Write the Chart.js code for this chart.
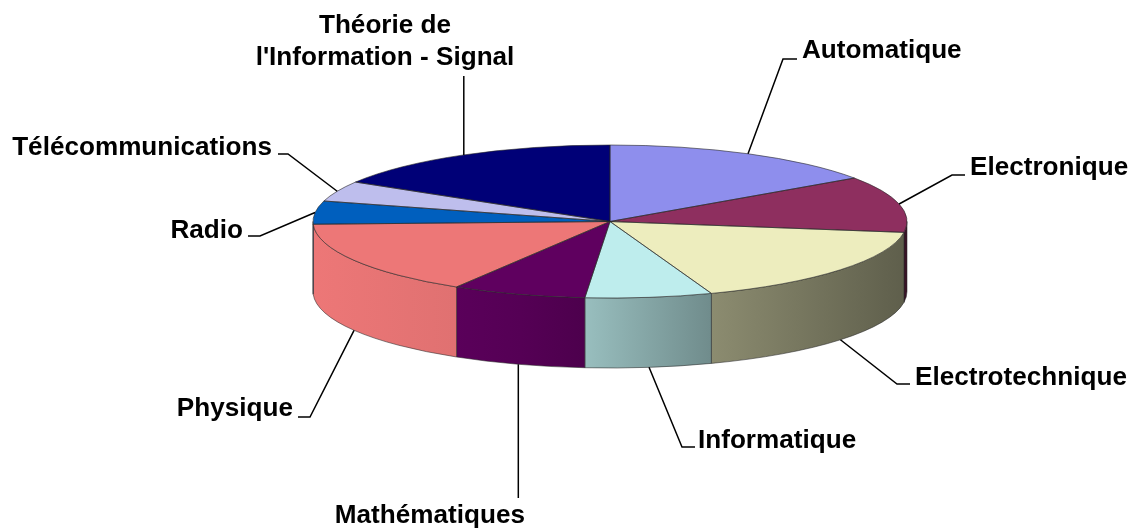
<!DOCTYPE html>
<html><head><meta charset="utf-8">
<script src="https://cdn.jsdelivr.net/npm/chart.js@4.4.1/dist/chart.umd.min.js"></script>
<style>html,body{margin:0;padding:0;background:#fff;}canvas{display:block;}</style>
</head><body>
<canvas id="c" width="1133" height="528"></canvas>
<script>
// ---- data ----
const categories = ["Automatique","Electronique","Electrotechnique","Informatique","Mathématiques","Physique","Radio","Télécommunications","Théorie de l'Information - Signal"];
const values = [15.4, 11.9, 17.2, 6.9, 7.3, 15.8, 4.9, 4.3, 16.4];
const labelLines = [["Automatique"],["Electronique"],["Electrotechnique"],["Informatique"],["Mathématiques"],["Physique"],["Radio"],["Télécommunications"],["Théorie de","l'Information - Signal"]];
const baseColors = ["#9999FF","#993366","#FFFFCC","#CCFFFF","#660066","#FF8080","#0066CC","#CCCCFF","#000080"];

// ---- layout / style ----
const GEO = {cx:610, cy:221.5, rx:297, ry:76.5, depth:70};
const FONT = 'bold 25px "Liberation Sans", Arial, sans-serif';
const TEXT_SX = 1.045;
const labelLayout = [
  {align:'left',  x:802, y:[58],     elbow:[783,59],  end:[797,59]},
  {align:'left',  x:970, y:[175],    elbow:[952,175], end:[965,175]},
  {align:'left',  x:915, y:[385],    elbow:[897,384], end:[910,384]},
  {align:'left',  x:698, y:[448],    elbow:[682,447], end:[695,447]},
  {align:'right', x:525, y:[523],    elbow:null,      end:[null,498]},
  {align:'right', x:293, y:[416],    elbow:[310,417], end:[298,417]},
  {align:'right', x:243, y:[238],    elbow:[260,236], end:[248,236]},
  {align:'right', x:272, y:[155],    elbow:[288,154], end:[278,154]},
  {align:'center',x:385, y:[33,65],  elbow:null,      end:[null,76]}
];
const sideStops = [[0,0.93],[0.24,0.88],[0.35,0.83],[0.455,0.75],[0.67,0.55],[1,0.37]];

function shade(hex,f){
  const n=parseInt(hex.slice(1),16);
  const r=(n>>16)&255,g=(n>>8)&255,b=n&255;
  return 'rgb('+Math.round(r*f)+','+Math.round(g*f)+','+Math.round(b*f)+')';
}
const topColors = baseColors.map(c=>shade(c,0.93));

const pie3d = {
  id:'pie3d',
  beforeDatasetsDraw(chart){
    const ctx=chart.ctx, meta=chart.getDatasetMeta(0);
    const {cx,cy,rx,ry,depth}=GEO;
    meta.data.forEach((el,i)=>{
      const s=el.startAngle, e=el.endAngle;
      [[0,Math.PI],[2*Math.PI,3*Math.PI]].forEach(([lo,hi])=>{
        const a0=Math.max(s,lo), a1=Math.min(e,hi);
        if(a1<=a0) return;
        const g=ctx.createLinearGradient(cx-rx,0,cx+rx,0);
        sideStops.forEach(([t,f])=>g.addColorStop(t,shade(baseColors[i],f)));
        ctx.beginPath();
        ctx.ellipse(cx,cy,rx,ry,0,a0,a1,false);
        ctx.ellipse(cx,cy+depth,rx,ry,0,a1,a0,true);
        ctx.closePath();
        ctx.fillStyle=g; ctx.fill();
        ctx.strokeStyle='rgba(40,40,40,0.55)'; ctx.lineWidth=1; ctx.stroke();
      });
    });
    const el0=meta.data[0];
    ctx.save();
    ctx.translate(cx,cy);
    ctx.scale(rx/el0.outerRadius, ry/el0.outerRadius);
    ctx.translate(-el0.x,-el0.y);
  },
  afterDatasetsDraw(chart){
    const ctx=chart.ctx, meta=chart.getDatasetMeta(0);
    ctx.restore();
    const {cx,cy,rx,ry,depth}=GEO;
    // top face outlines
    ctx.save();
    ctx.strokeStyle='rgba(40,40,40,0.6)'; ctx.lineWidth=1;
    meta.data.forEach(el=>{
      ctx.beginPath();
      ctx.moveTo(cx,cy);
      ctx.ellipse(cx,cy,rx,ry,0,el.startAngle,el.endAngle,false);
      ctx.closePath();
      ctx.stroke();
    });
    ctx.restore();
    // leaders + labels
    ctx.save();
    ctx.strokeStyle='#000'; ctx.lineWidth=1.5; ctx.fillStyle='#000';
    ctx.font=FONT; ctx.textBaseline='alphabetic';
    meta.data.forEach((el,i)=>{
      const L=labelLayout[i];
      const mid=(el.startAngle+el.endAngle)/2;
      const sn=Math.sin(mid);
      const px=cx+rx*Math.cos(mid);
      const py=cy+ry*sn+(sn>0?depth:0);
      ctx.beginPath();
      ctx.moveTo(px,py);
      if(L.elbow) ctx.lineTo(L.elbow[0],L.elbow[1]);
      ctx.lineTo(L.end[0]==null?px:L.end[0], L.end[1]);
      ctx.stroke();
      labelLines[i].forEach((line,k)=>{
        ctx.save();
        ctx.translate(L.x,L.y[k]);
        ctx.scale(TEXT_SX,1);
        ctx.textAlign=L.align;
        ctx.fillText(line,0,0);
        ctx.restore();
      });
    });
    ctx.restore();
  }
};

new Chart(document.getElementById('c'),{
  type:'pie',
  data:{labels:categories,datasets:[{data:values,backgroundColor:topColors,borderWidth:0,clip:false}]},
  options:{
    responsive:false, animation:false, devicePixelRatio:1,
    layout:{padding:0},
    events:[],
    plugins:{legend:{display:false},tooltip:{enabled:false}}
  },
  plugins:[pie3d]
});
</script>
</body></html>
